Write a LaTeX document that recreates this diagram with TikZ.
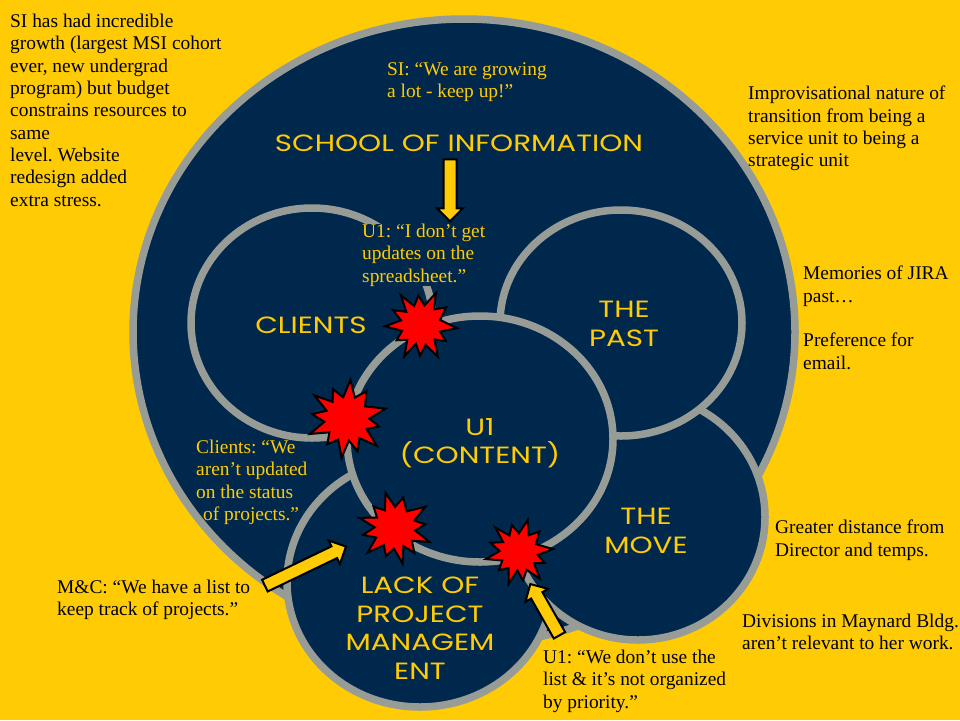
\documentclass[tikz,border=0pt]{standalone}
\usepackage{fontspec}
\setmainfont{Liberation Serif}
\newfontfamily\labelfont[FakeStretch=1.25]{Poppins}
\usetikzlibrary{shapes.arrows}
\frenchspacing

\definecolor{maize}{HTML}{FFCB05}
\definecolor{navy}{HTML}{00274C}
\definecolor{ring}{HTML}{989C97}
\definecolor{boomred}{HTML}{FF0000}

\tikzset{
  zone/.style={fill=navy, draw=ring, line width=7.5pt},
  remark/.style={font=\fontsize{19.4}{22.3}\selectfont, align=left,
    anchor=north west, inner sep=0pt, text=black},
  quote/.style={remark, text=maize},
  quotebox/.style={quote, fill=navy},
  tag/.style={font=\labelfont\fontsize{23.5}{28.5}\selectfont,
    align=center, text=maize, inner sep=0pt},
  pointer/.style={single arrow, fill=maize, draw=black, line width=2pt,
    text height=11pt, text depth=0pt, inner sep=0pt,
    single arrow head extend=6.5pt, single arrow tip angle=90},
  boomline/.style={fill=boomred, draw=black, line width=2pt, line join=miter},
  boom/.pic={
    \path[boomline] (5:1) -- (19:0.56) -- (33:0.82) -- (47:0.55) -- (62:1)
      -- (77:0.57) -- (92:0.85) -- (105:0.54) -- (118:0.98) -- (133:0.56)
      -- (148:0.8) -- (163:0.55) -- (178:1) -- (193:0.57) -- (208:0.88)
      -- (222:0.55) -- (236:1) -- (250:0.56) -- (265:0.82) -- (280:0.55)
      -- (295:0.98) -- (310:0.57) -- (325:0.85) -- (345:0.55) -- cycle;
  }
}

\begin{document}
\begin{tikzpicture}[x=1pt, y=-1pt]
  % page
  \fill[maize] (0,0) rectangle (960,720);
  \useasboundingbox (0,0) rectangle (960,720);

  % centres of the regions
  \coordinate (school) at (464,332);
  \coordinate (clients) at (312,323);
  \coordinate (lack) at (420,582);
  \coordinate (move) at (638,517);
  \coordinate (past) at (621,323);
  \coordinate (content) at (480,439);

  % regions, back to front
  \draw[zone] (school) ellipse [x radius=331, y radius=313];
  \draw[zone] (clients) ellipse [x radius=121, y radius=115];
  \draw[zone] (lack) ellipse [x radius=133, y radius=125];
  \draw[zone] (move) ellipse [x radius=127, y radius=123];
  \draw[zone] (past) ellipse [x radius=121, y radius=113];
  \draw[zone] (content) ellipse [x radius=133, y radius=123];

  % region titles
  \node[tag] (t-school) at (459,143) {SCHOOL OF INFORMATION};
  \node[tag] (t-clients) at (311,325) {CLIENTS};
  \node[tag] (t-past) at (624,324) {THE\\PAST};
  \node[tag] (t-content) at (480,443) {U1\\(CONTENT)};
  \node[tag] (t-move) at (646,531) {THE\\MOVE};
  \node[tag] (t-lack) at (420,628) {LACK OF\\PROJECT\\MANAGEM\\ENT};

  % quotes inside the regions
  \node[quote] (q-si) at (387,62) {SI: “We are growing\\a lot - keep up!”};
  \node[quotebox] (q-sheet) at (362,224) {U1: “I don’t get\\updates on the\\spreadsheet.”};
  \node[quote] (q-clients) at (196,440) {Clients: “We\\aren’t updated\\on the status\\\hspace*{7pt}of projects.”};

  % notes around the diagram
  \node[remark] (n-growth) at (10,14) {SI has had incredible\\growth (largest MSI cohort\\ever, new undergrad\\program) but budget\\constrains resources to\\same\\level. Website\\redesign added\\extra stress.};
  \node[remark] (n-transition) at (748,86) {Improvisational nature of\\transition from being a\\service unit to being a\\strategic unit};
  \node[remark] (n-jira) at (803,266) {Memories of JIRA\\past…\\[22.3pt]Preference for\\email.};
  \node[remark] (n-distance) at (775,520) {Greater distance from\\Director and temps.};
  \node[remark] (n-divisions) at (742,614) {Divisions in Maynard Bldg.\\aren’t relevant to her work.};
  \node[remark] (n-list) at (57,580) {M\&C: “We have a list to\\keep track of projects.”};
  \node[remark] (n-priority) at (543,650) {U1: “We don’t use the\\list \& it’s not organized\\by priority.”};

  % points of friction
  \pic (b1) [scale=36] at (421,325) {boom};
  \pic (b2) [scale=40, rotate=20] at (347,419) {boom};
  \pic (b3) [scale=37, rotate=40] at (395,528) {boom};
  \pic (b4) [scale=34, rotate=10] at (519,552) {boom};

  % block arrows
  \node[pointer, minimum height=62pt, rotate=-90] (a-school) at (450,187) {};
  \node[pointer, minimum height=90pt, rotate=25.7] (a-list) at (302.5,567.5) {};
  \node[pointer, minimum height=59pt, rotate=119.6] (a-priority) at (546.5,612.5) {};
\end{tikzpicture}
\end{document}
